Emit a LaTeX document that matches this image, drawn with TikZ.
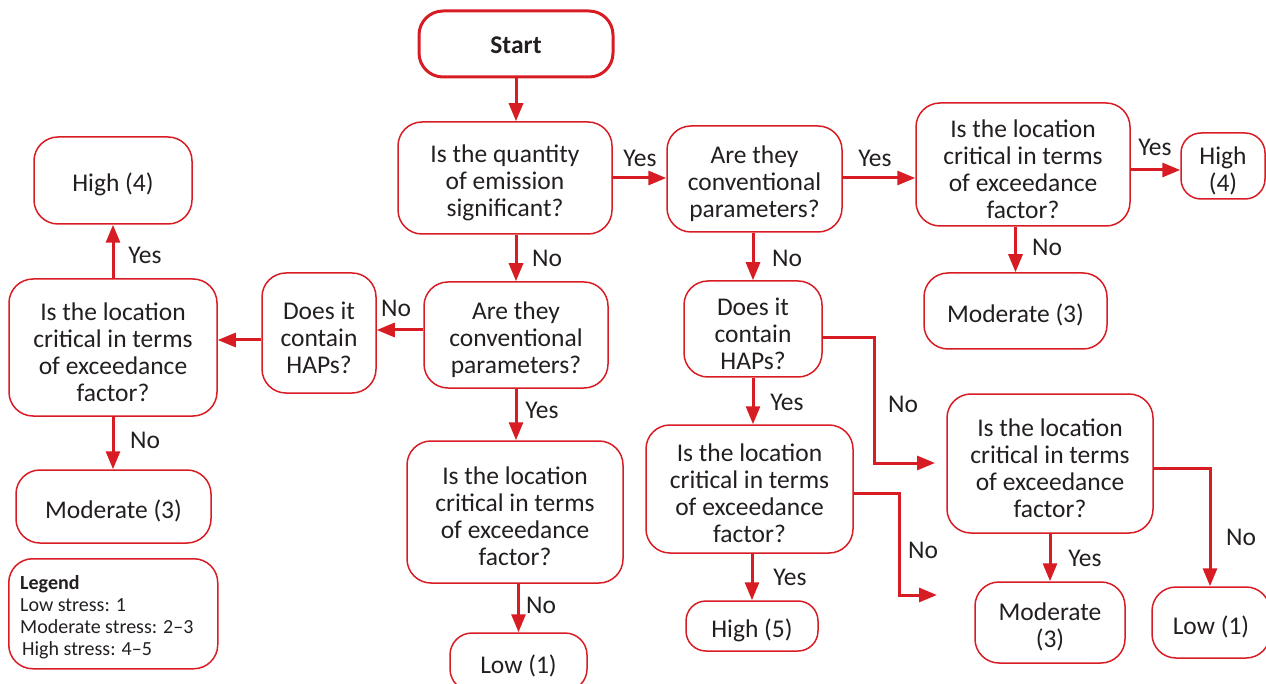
\documentclass[tikz,border=0pt]{standalone}
\usepackage{fontspec}
\setmainfont{Carlito}
\usetikzlibrary{arrows.meta}
\definecolor{ered}{RGB}{216,28,36}
\definecolor{txt}{RGB}{35,31,32}
\newcommand\bxfont{\fontsize{25.5}{27}\selectfont}
\newcommand\lgfont{\fontsize{20}{22}\selectfont}
\newcommand\Zs{\rule{0pt}{27pt}}
\begin{document}
\begin{tikzpicture}[x=1pt,y=-1pt,
  box/.style={draw=ered, line width=1.5pt, rounded corners=24pt, align=center,
    text=txt, font=\bxfont, inner sep=0pt},
  plainbox/.style={draw=ered, line width=1.5pt, rounded corners=24pt, inner sep=0pt},
  arr/.style={draw=ered, line width=3pt, -{Triangle[length=18pt,width=14pt]}},
  lbl/.style={text=txt, font=\bxfont, inner sep=0pt}]
\useasboundingbox (0,0) rectangle (1266,684);
% nodes
\node[box, line width=3pt, minimum width=194pt, minimum height=66pt, font=\bxfont\bfseries] (Start) at (516,44) {\rule{0pt}{19pt}Start};
\node[box, minimum width=214pt, minimum height=112pt] (Q1) at (505,178) {\Zs Is the quantity\\of emission\\significant?};
\node[box, minimum width=175pt, minimum height=106pt] (Q2) at (754.5,179) {\Zs Are they\\conventional\\parameters?};
\node[box, minimum width=214pt, minimum height=123pt] (Q3) at (1023,164.5) {\Zs Is the location\\critical in terms\\of exceedance\\factor?};
\node[box, minimum width=84pt, minimum height=66pt, rounded corners=20pt] (H4r) at (1223,166) {\Zs High\\(4)};
\node[box, minimum width=183pt, minimum height=76pt] (M3r) at (1015.5,311) {\Zs Moderate (3)};
\node[box, minimum width=158pt, minimum height=87pt] (H4l) at (113,180.5) {\Zs High (4)};
\node[box, minimum width=208pt, minimum height=137pt] (LQ) at (113,347.5) {\Zs Is the location\\critical in terms\\of exceedance\\factor?};
\node[box, minimum width=114pt, minimum height=120pt] (HAPl) at (319,333) {\Zs Does it\\contain\\HAPs?};
\node[box, minimum width=195pt, minimum height=73pt] (M3l) at (113.5,506.5) {\Zs Moderate (3)};
\node[plainbox, minimum width=209pt, minimum height=110pt, anchor=north west] (Leg) at (8,558) {};
\node[text=txt, align=left, inner sep=0pt, anchor=north west, font=\lgfont] (LegT) at (20,575)
  {\textbf{Legend}\\
   Low stress: 1\\
   Moderate stress: 2--3\\
   \hspace{2pt}High stress: 4--5};
\node[box, minimum width=184pt, minimum height=106pt] (CC) at (516,335) {\Zs Are they\\conventional\\parameters?};
\node[box, minimum width=216pt, minimum height=142pt] (CL) at (515,512) {\Zs Is the location\\critical in terms\\of exceedance\\factor?};
\node[box, minimum width=137pt, minimum height=58pt, rounded corners=22pt] (Lowc) at (518.5,662) {\Zs Low (1)};
\node[box, minimum width=138pt, minimum height=96pt] (HAPr) at (753,329) {\Zs Does it\\contain\\HAPs?};
\node[box, minimum width=207pt, minimum height=128pt] (MQ) at (749.5,489) {\Zs Is the location\\critical in terms\\of exceedance\\factor?};
\node[box, minimum width=132pt, minimum height=50pt, rounded corners=20pt] (H5) at (752,626) {\Zs High (5)};
\node[box, minimum width=206pt, minimum height=139pt] (RQ) at (1050,463.5) {\Zs Is the location\\critical in terms\\of exceedance\\factor?};
\node[box, minimum width=150pt, minimum height=81pt] (M3rb) at (1050,622.5) {\Zs Moderate\\(3)};
\node[box, minimum width=118pt, minimum height=71pt] (L1r) at (1211,622.5) {\Zs Low (1)};
% connector coordinates
\coordinate (b1) at (874,338);
\coordinate (b2) at (874,463);
\coordinate (e1) at (935,463);
\coordinate (b3) at (899,493);
\coordinate (b4) at (899,595);
\coordinate (e2) at (937,595);
\coordinate (b5) at (1210,468);
% connectors
\draw[arr] (Start.south) -- (Start.south |- Q1.north);
\draw[arr] (Q1.east) -- (Q2.west |- Q1.east);
\draw[arr] (Q2.east |- 0,178) -- (Q3.west |- 0,178);
\draw[arr] (Q3.east |- 0,170) -- (H4r.west |- 0,170);
\draw[arr] (Q3.south -| M3r.north) -- (M3r.north);
\draw[arr] (Q1.south -| CC.north) -- (CC.north);
\draw[arr] (Q2.south -| HAPr.north) -- (HAPr.north);
\draw[arr] (CC.west |- 0,330) -- (HAPl.east |- 0,330);
\draw[arr] (HAPl.west |- 0,340) -- (LQ.east |- 0,340);
\draw[arr] (LQ.north) -- (H4l.south);
\draw[arr] (LQ.south) -- (LQ.south |- M3l.north);
\draw[arr] (CC.south) -- (CC.south |- CL.north);
\draw[arr] (CL.south -| Lowc.north) -- (Lowc.north);
\draw[arr] (HAPr.south) -- (HAPr.south |- MQ.north);
\draw[arr] (MQ.south -| H5.north) -- (H5.north);
\draw[arr] (HAPr.east |- b1) -- (b1) -- (b2) -- (e1);
\draw[arr] (MQ.east |- b3) -- (b3) -- (b4) -- (e2);
\draw[arr] (RQ.south) -- (RQ.south |- M3rb.north);
\draw[arr] (RQ.east |- b5) -- (b5) -- (b5 |- L1r.north);
% labels
\node[lbl] (y1) at (640,158) {Yes};
\node[lbl] (y2) at (875,158) {Yes};
\node[lbl] (y3) at (1155,147) {Yes};
\node[lbl] (n1) at (1047,247) {No};
\node[lbl] (n2) at (547,258) {No};
\node[lbl] (n3) at (787,258) {No};
\node[lbl] (n4) at (396,308) {No};
\node[lbl] (y4) at (145,255) {Yes};
\node[lbl] (n5) at (145,440) {No};
\node[lbl] (y5) at (542,410) {Yes};
\node[lbl] (n6) at (541,605) {No};
\node[lbl] (y6) at (787,402) {Yes};
\node[lbl] (y7) at (790,577) {Yes};
\node[lbl] (n7) at (903,404) {No};
\node[lbl] (n8) at (923,550) {No};
\node[lbl] (y8) at (1085,558) {Yes};
\node[lbl] (n9) at (1241,537) {No};
\end{tikzpicture}
\end{document}
